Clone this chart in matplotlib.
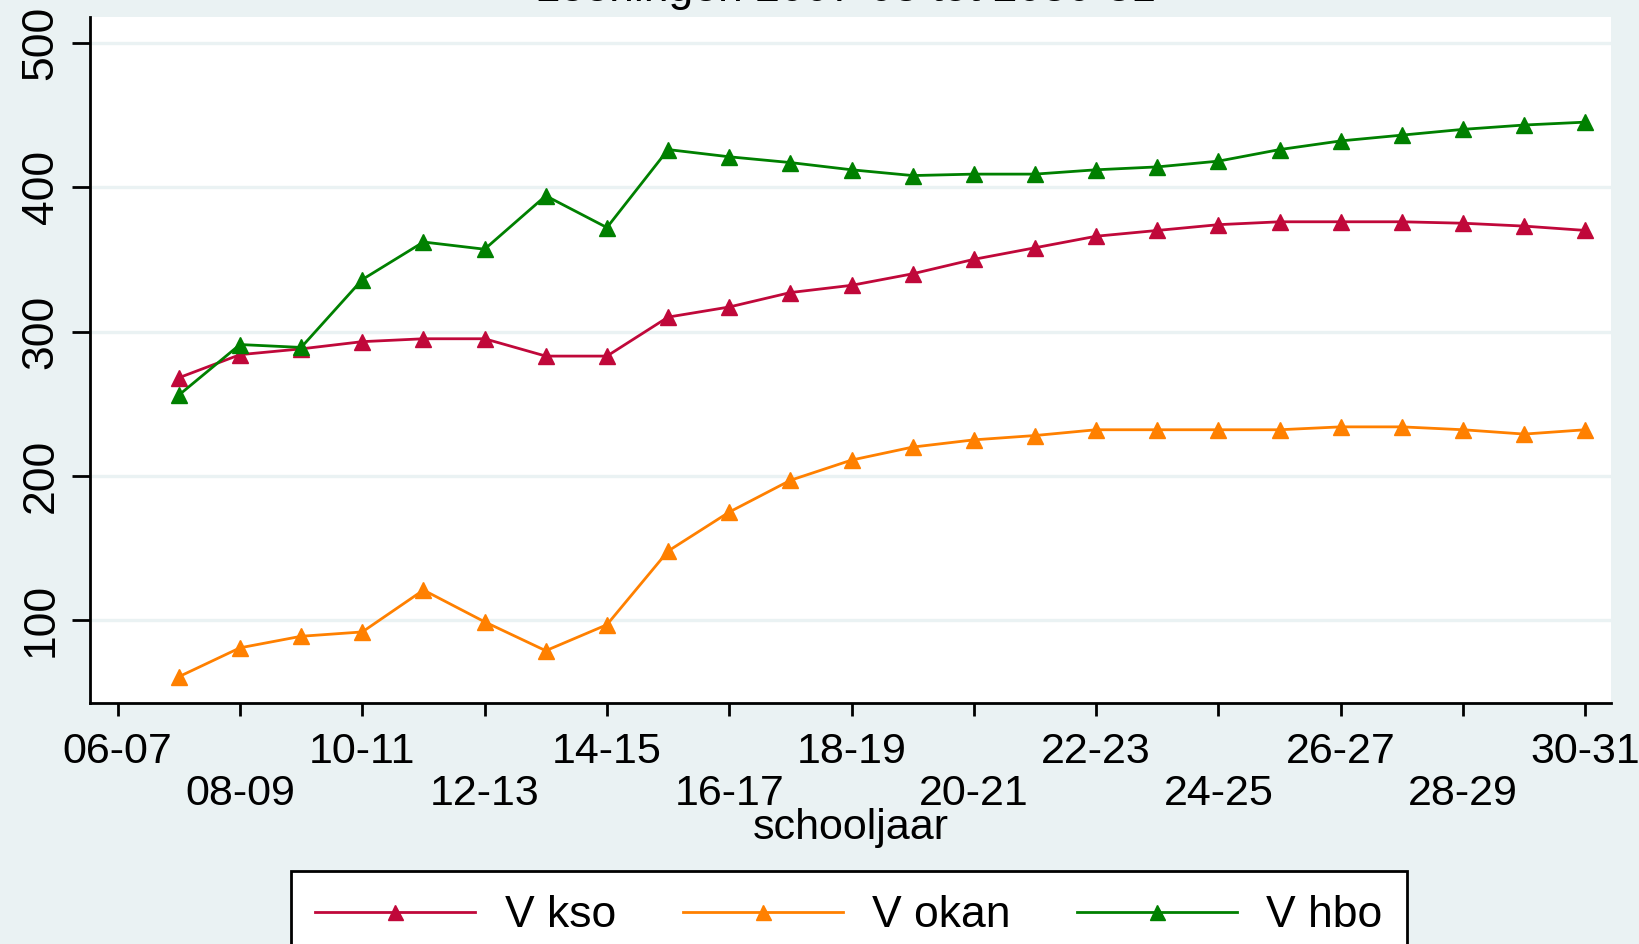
import matplotlib
matplotlib.use("Agg")
import matplotlib.pyplot as plt

# school years on the x axis (06-07 .. 30-31)
years = ["06-07", "07-08", "08-09", "09-10", "10-11", "11-12", "12-13",
         "13-14", "14-15", "15-16", "16-17", "17-18", "18-19", "19-20",
         "20-21", "21-22", "22-23", "23-24", "24-25", "25-26", "26-27",
         "27-28", "28-29", "29-30", "30-31"]

# series start at 07-08
kso = [268, 284, 288, 293, 295, 295, 283, 283, 310, 317, 327, 332,
       340, 350, 358, 366, 370, 374, 376, 376, 376, 375, 373, 370]
okan = [61, 81, 89, 92, 121, 99, 79, 97, 148, 175, 197, 211,
        220, 225, 228, 232, 232, 232, 232, 234, 234, 232, 229, 232]
hbo = [256, 291, 289, 336, 362, 357, 394, 372, 426, 421, 417, 412,
       408, 409, 409, 412, 414, 418, 426, 432, 436, 440, 443, 445]

bg = "#EAF2F3"
plt.rcParams["font.family"] = ["Liberation Sans", "DejaVu Sans"]

fig = plt.figure(figsize=(16.39, 9.44), dpi=100, facecolor=bg)
ax = fig.add_axes([0.0549, 0.2553, 0.9280, 0.7267])
ax.set_facecolor("white")

xs = list(range(1, len(kso) + 1))
style = dict(lw=2, marker="^", markersize=12)
l1, = ax.plot(xs, kso, color="#C0083A", label="V kso", **style)
l2, = ax.plot(xs, okan, color="#FF8000", label="V okan", **style)
l3, = ax.plot(xs, hbo, color="#008000", label="V hbo", **style)

ax.set_xlim(-0.453, 24.418)
ax.set_ylim(42.8, 517.8)

ax.yaxis.grid(True, color=bg, lw=2.4)
ax.set_axisbelow(True)
for s in ["top", "right"]:
    ax.spines[s].set_visible(False)
for s in ["left", "bottom"]:
    ax.spines[s].set_linewidth(2)

ax.set_yticks([100, 200, 300, 400, 500])
ax.tick_params(axis="y", length=13, width=2, pad=7.5, labelsize=32, labelrotation=90)
plt.setp(ax.get_yticklabels(), va="center")

# ticks every two years, labels alternate between two rows
ax.set_xticks(range(0, len(years), 4))
ax.set_xticklabels(years[0::4])
ax.set_xticks(range(2, len(years), 4), minor=True)
ax.set_xticklabels(years[2::4], minor=True)
ax.tick_params(axis="x", which="both", length=9.5, width=2, labelsize=31)
ax.tick_params(axis="x", which="major", pad=11.5)
ax.tick_params(axis="x", which="minor", pad=41.5)

fig.text(0.519, 1 - 839 / 944, "schooljaar", ha="center", va="baseline", fontsize=31)
fig.text(0.516, 1 - 1.5 / 944, "Leerlingen 2007-08 tot 2030-31", ha="center",
         va="baseline", fontsize=32)

leg = fig.legend(handles=[l1, l2, l3], loc="upper center", ncol=3,
                 bbox_to_anchor=(0.518, 1 - 871 / 944), fontsize=32,
                 handlelength=3.6, handletextpad=0.66, columnspacing=1.5,
                 numpoints=1, fancybox=False, borderpad=0.55, borderaxespad=0,
                 markerscale=0.9, framealpha=1)
leg.get_frame().set_edgecolor("black")
leg.get_frame().set_facecolor("white")
leg.get_frame().set_linewidth(2)

fig.savefig("out.png", dpi=100, facecolor=bg)
